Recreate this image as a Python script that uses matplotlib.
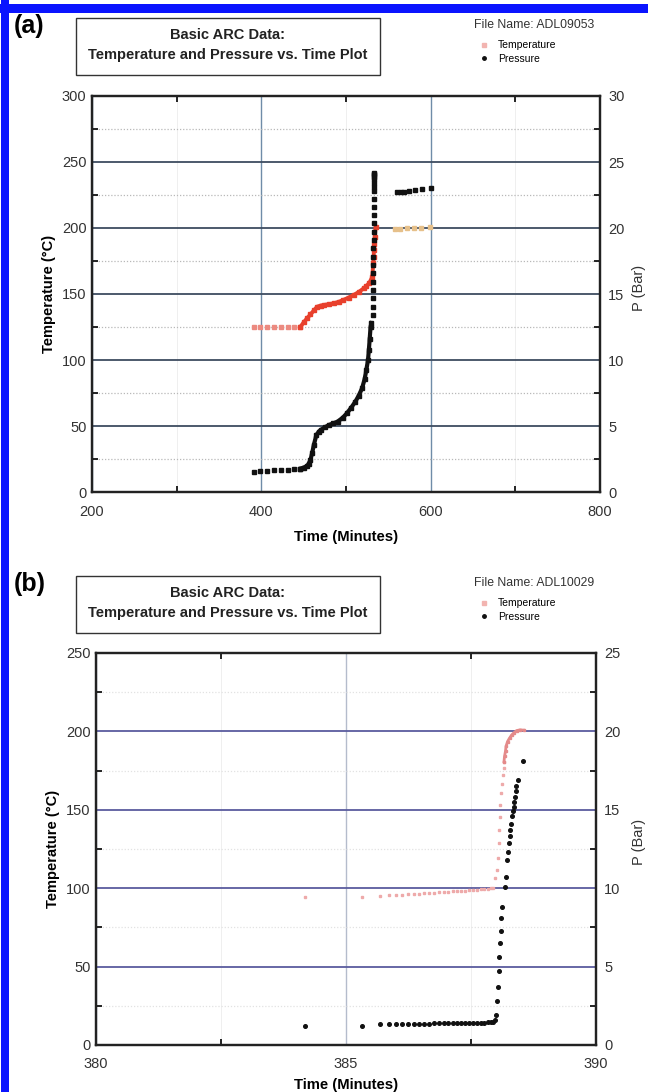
import matplotlib.pyplot as plt
from matplotlib.patches import Rectangle
from matplotlib.lines import Line2D
from matplotlib.ticker import MultipleLocator

plt.rcParams['font.family'] = ['Liberation Sans', 'DejaVu Sans']

# ---- panel (a): ADL09053 ----
a_temp_time = [391, 399, 407, 415, 423, 431, 439, 446]
a_temp_val = [125.2, 125.2, 125.1, 125.1, 125.0, 125.0, 125.0, 125.0]
a_temp_curve_time = [446, 450, 454, 458, 462, 466, 470, 474, 480, 486, 492, 497, 503, 509, 515, 521,
                     524, 527, 529, 531, 532.2, 532.6, 533, 533.5, 534, 535]
a_temp_curve_val = [125.0, 128.5, 131.6, 134.5, 137.5, 140.4, 141.2, 141.7, 142.3, 143.0, 144.2, 145.5,
                    147.3, 149.2, 151.5, 154.3, 156, 158, 160, 163, 173.3, 178, 183, 188, 193.4, 200.5]
a_temp_end_time = [558, 564, 572, 580, 589, 599]
a_temp_end_val = [199.2, 199.5, 199.8, 200.0, 200.2, 200.4]

a_pres_time = [391, 399, 407, 415, 423, 431, 439, 446]
a_pres_val = [1.54, 1.57, 1.60, 1.63, 1.66, 1.69, 1.73, 1.77]
a_pres_curve_time = [446, 450, 454, 456, 458, 460, 462, 465, 468, 470, 475, 480, 485, 490, 496, 501,
                     506, 511, 515, 519, 522, 524, 526, 527, 528, 529, 530]
a_pres_curve_val = [1.77, 1.85, 1.97, 2.15, 2.42, 2.95, 3.56, 4.32, 4.58, 4.70, 4.90, 5.08, 5.20, 5.33,
                    5.62, 5.96, 6.38, 6.84, 7.30, 7.86, 8.55, 9.24, 10.0, 10.76, 11.6, 12.5, 12.8]
a_pres_rise_time = [532.0, 532.1, 532.1, 532.2, 532.2, 532.3, 532.3, 532.4, 532.4, 532.5, 532.5, 532.6,
                    532.6, 532.7, 532.7, 532.8, 532.8, 532.9, 533.0, 533.0, 533.1, 533.1, 533.2]
a_pres_rise_val = [13.4, 14.0, 14.7, 15.3, 15.9, 16.6, 17.2, 17.8, 18.5, 19.1, 19.7, 20.4, 21.0, 21.6,
                   22.2, 22.8, 23.1, 23.4, 23.7, 23.9, 24.0, 24.1, 24.2]
a_pres_end_time = [560, 564.5, 569, 574, 582, 590, 600]
a_pres_end_val = [22.7, 22.7, 22.75, 22.8, 22.9, 22.95, 23.0]

# ---- panel (b): ADL10029 ----
b_temp_time = [384.18, 385.31, 385.68, 385.85, 386.0, 386.12, 386.24, 386.35, 386.46, 386.56, 386.66,
               386.76, 386.86, 386.95, 387.04, 387.13, 387.22, 387.30, 387.38, 387.46, 387.54, 387.62,
               387.69, 387.76, 387.83, 387.89, 387.94, 387.98, 388.01, 388.03, 388.05, 388.05, 388.07,
               388.08, 388.09, 388.11, 388.13, 388.15, 388.16]
b_temp_val = [94.7, 94.7, 95.3, 95.5, 95.7, 95.9, 96.1, 96.3, 96.5, 96.7, 96.9, 97.1, 97.3, 97.5, 97.7,
              97.9, 98.1, 98.3, 98.5, 98.7, 98.9, 99.1, 99.3, 99.5, 99.7, 99.9, 100.2, 106.4, 111.7,
              119.0, 128.7, 137.0, 145.7, 153.0, 160.5, 166.5, 172.3, 176.6, 180.8]
b_temp_curve_time = [388.16, 388.17, 388.19, 388.20, 388.23, 388.27, 388.31, 388.35, 388.41, 388.48, 388.55]
b_temp_curve_val = [180.8, 184.0, 187.5, 190.4, 193.5, 195.7, 197.6, 198.9, 200.5, 201.0, 200.8]

b_pres_time = [384.18, 385.31, 385.68, 385.85, 386.0, 386.12, 386.24, 386.35, 386.46, 386.56, 386.66,
               386.76, 386.86, 386.95, 387.04, 387.13, 387.22, 387.30, 387.38, 387.46, 387.54, 387.62,
               387.69, 387.76, 387.83, 387.89, 387.94, 387.98, 388.00, 388.01, 388.03, 388.05, 388.06,
               388.08, 388.09, 388.10, 388.12, 388.18, 388.19, 388.21, 388.24, 388.25, 388.27, 388.28,
               388.30, 388.32, 388.33, 388.35, 388.36, 388.37, 388.39, 388.40, 388.43, 388.53]
b_pres_val = [1.21, 1.23, 1.32, 1.33, 1.34, 1.35, 1.35, 1.36, 1.36, 1.37, 1.37, 1.38, 1.38, 1.38, 1.39,
              1.39, 1.39, 1.40, 1.40, 1.41, 1.41, 1.42, 1.42, 1.43, 1.44, 1.45, 1.48, 1.60, 1.90, 2.8,
              3.7, 4.7, 5.6, 6.5, 7.3, 8.1, 8.8, 10.1, 10.7, 11.8, 12.3, 12.9, 13.3, 13.7, 14.1, 14.6,
              14.9, 15.2, 15.5, 15.8, 16.2, 16.5, 16.9, 18.1]


W, H = 648, 1092
fig = plt.figure(figsize=(W / 100, H / 100), dpi=100)


def fx(px):
    return px / W


def fy(py):
    return 1 - py / H


def setup(ax, xlim, ylim, xmajor, ymajor, hcolor, vcolor, hminor, vminor):
    ax.set_xlim(*xlim)
    ax.set_ylim(*ylim)
    ax.xaxis.set_major_locator(MultipleLocator(xmajor))
    ax.xaxis.set_minor_locator(MultipleLocator(xmajor / 2))
    ax.yaxis.set_major_locator(MultipleLocator(ymajor))
    ax.yaxis.set_minor_locator(MultipleLocator(ymajor / 2))
    ax.yaxis.grid(True, which='major', color=hcolor, lw=1.3)
    ax.yaxis.grid(True, which='minor', color=hminor, lw=0.9, ls=(0, (1, 1.5)))
    ax.xaxis.grid(True, which='major', color=vcolor, lw=1.0)
    ax.xaxis.grid(True, which='minor', color=vminor, lw=0.6)
    ax.set_axisbelow(True)
    for s in ax.spines.values():
        s.set_linewidth(1.6)
        s.set_color('#222222')
    ax.tick_params(which='both', direction='in', top=True, right=False, labelsize=10.5,
                   labelcolor='#333333', width=1.2)
    ax.tick_params(which='major', length=0, pad=4)
    ax.tick_params(axis='x', which='major', pad=9)
    ax.tick_params(which='minor', length=4)


def twin(ax, top):
    ax2 = ax.twinx()
    ax2.set_ylim(0, top)
    ax2.yaxis.set_major_locator(MultipleLocator(5))
    ax2.yaxis.set_minor_locator(MultipleLocator(2.5))
    ax2.tick_params(which='both', direction='in', labelsize=10.5, labelcolor='#333333', width=1.2)
    ax2.tick_params(which='major', length=0, pad=6)
    ax2.tick_params(which='minor', length=4)
    for s in ax2.spines.values():
        s.set_linewidth(1.6)
        s.set_color('#222222')
    return ax2


def header(tag, fname, top):
    fig.text(fx(14), fy(top + 8), tag, fontsize=18, fontweight='bold', va='center', ha='left')
    fig.add_artist(Rectangle((fx(76), fy(top + 57)), fx(380) - fx(76), 57 / H,
                             transform=fig.transFigure, fill=False, lw=1.0, ec='#333333'))
    fig.text(fx(228), fy(top + 17), 'Basic ARC Data:', fontsize=10.5, fontweight='bold',
             ha='center', va='center', color='#222222')
    fig.text(fx(228), fy(top + 37), 'Temperature and Pressure vs. Time Plot', fontsize=10.5,
             fontweight='bold', ha='center', va='center', color='#222222')
    fig.text(fx(474), fy(top + 7), 'File Name: ' + fname, fontsize=8.8, ha='left', va='center',
             color='#333333')


def legend(ax, top, tcolor):
    handles = [Line2D([], [], ls='none', marker='s', ms=2.5, color=tcolor, label='Temperature'),
               Line2D([], [], ls='none', marker='o', ms=2.5, color='#111111', label='Pressure')]
    ax.legend(handles=handles, loc='upper left', bbox_to_anchor=(fx(476), fy(top + 17)),
              bbox_transform=fig.transFigure, frameon=False, fontsize=7.5, borderpad=0,
              handlelength=0.6, handletextpad=1.0, labelspacing=0.35)


# ================= (a) =================
axa = fig.add_axes([fx(92), fy(492), fx(600) - fx(92), (492 - 96) / H])
setup(axa, (200, 800), (0, 300), 200, 50, '#3e4c60', '#6f8ca8', '#b8b8b8', '#ececec')
axa.plot(a_temp_time, a_temp_val, ls='none', marker='s', ms=2.4, color='#ec8a80')
axa.plot(a_temp_curve_time, a_temp_curve_val, '-', lw=2.8, color='#e8402c', marker='s', ms=2.4)
axa.plot(a_temp_end_time, a_temp_end_val, ls='none', marker='s', ms=2.4, color='#e6c08a')
axa.set_ylabel('Temperature (°C)', fontsize=10.5, fontweight='bold', labelpad=4)
axa.set_xlabel('Time (Minutes)', fontsize=10.7, fontweight='bold')
axa.xaxis.set_label_coords(0.5, -0.095)

axa2 = twin(axa, 30)
axa2.plot(a_pres_time, a_pres_val, ls='none', marker='s', ms=2.8, color='#111111')
axa2.plot(a_pres_curve_time, a_pres_curve_val, '-', lw=3.0, color='#111111', marker='s', ms=2.8)
axa2.plot(a_pres_rise_time, a_pres_rise_val, ls='none', marker='s', ms=2.8, color='#111111')
axa2.plot(a_pres_end_time, a_pres_end_val, ls='none', marker='s', ms=2.8, color='#111111')
fig.text(fx(639), fy(288), 'P (Bar)', rotation=90, fontsize=10.5, ha='center', va='center',
         color='#333333')

header('(a)', 'ADL09053', 18)
legend(axa2, 18, '#f2b4b0')

# ================= (b) =================
axb = fig.add_axes([fx(96), fy(1045), fx(596) - fx(96), (1045 - 653) / H])
setup(axb, (380, 390), (0, 250), 5, 50, '#5a5c9e', '#b4bccc', '#e2e2e2', '#ececec')
axb.plot(b_temp_time, b_temp_val, ls='none', marker='s', ms=2.0, color='#eeaaaa')
axb.plot(b_temp_curve_time, b_temp_curve_val, '-', lw=2.0, color='#e48a8a', marker='s', ms=2.0)
axb.set_ylabel('Temperature (°C)', fontsize=10.5, fontweight='bold', labelpad=4)
axb.set_xlabel('Time (Minutes)', fontsize=10.7, fontweight='bold')
axb.xaxis.set_label_coords(0.5, -0.085)

axb2 = twin(axb, 25)
axb2.plot(b_pres_time, b_pres_val, ls='none', marker='o', ms=2.6, color='#111111')
fig.text(fx(639), fy(842), 'P (Bar)', rotation=90, fontsize=10.5, ha='center', va='center',
         color='#333333')

header('(b)', 'ADL10029', 576)
legend(axb2, 576, '#f2b4b0')

# blue frame of the scanned figure
fig.add_artist(Rectangle((0, fy(13)), 1, 9 / H, transform=fig.transFigure, color='#0a14ff', lw=0))
fig.add_artist(Rectangle((fx(1), 0), 8 / W, 1, transform=fig.transFigure, color='#0a14ff', lw=0))

fig.savefig('out.png', dpi=100)
